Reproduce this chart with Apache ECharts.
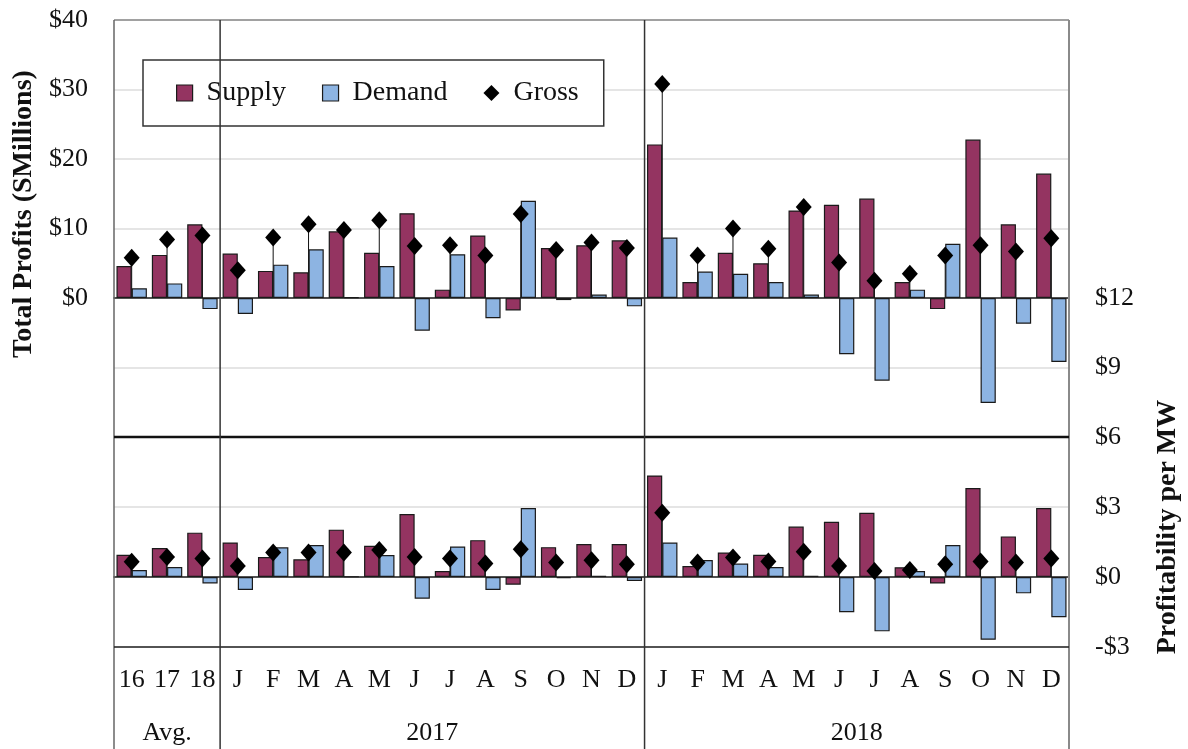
<!DOCTYPE html>
<html><head><meta charset="utf-8">
<script src="https://cdn.jsdelivr.net/npm/echarts@6/dist/echarts.min.js"></script>
<style>html,body{margin:0;padding:0;background:#fff}#c{width:1188px;height:749px}</style>
</head><body><div id="c"></div>
<script>
// ---- data ----
const categories = ['16','17','18','J','F','M','A','M','J','J','A','S','O','N','D','J','F','M','A','M','J','J','A','S','O','N','D'];
const groupNames = ['Avg.','2017','2018'];
const groupSizes = [3, 12, 12];
const seriesNames = ['Supply', 'Demand', 'Gross'];
// Top panel: Total profits ($ millions)
const supplyTotal = [4.6,6.2,10.6, 6.4,3.9,3.7,9.6,6.5,12.2,1.2,9.0,-1.8,7.2,7.6,8.3, 22.1,2.3,6.5,5.0,12.6,13.4,14.3,2.3,-1.6,22.8,10.6,17.9];
const demandTotal = [1.4,2.1,-1.6, -2.3,4.8,7.0,0.1,4.6,-4.7,6.3,-2.9,14.0,-0.3,0.5,-1.2, 8.7,3.8,3.5,2.3,0.5,-8.1,-11.9,1.2,7.8,-15.1,-3.7,-9.2];
const grossTotal  = [5.8,8.4,9.0, 4.0,8.7,10.6,9.8,11.2,7.5,7.6,6.1,12.1,6.9,8.0,7.2, 30.8,6.1,10.0,7.1,13.1,5.1,2.5,3.5,6.1,7.6,6.7,8.6];
// Bottom panel: profitability per MW
const supplyPerMW = [0.95,1.24,1.90, 1.48,0.86,0.76,2.03,1.34,2.70,0.26,1.58,-0.33,1.28,1.41,1.41, 4.35,0.47,1.05,0.95,2.16,2.37,2.75,0.42,-0.28,3.81,1.74,2.96];
const demandPerMW = [0.30,0.43,-0.28, -0.56,1.27,1.37,0.02,0.94,-0.93,1.31,-0.56,2.96,-0.05,0.05,-0.17, 1.48,0.73,0.58,0.43,0.05,-1.51,-2.33,0.26,1.37,-2.69,-0.70,-1.72];
const grossPerMW  = [0.65,0.86,0.79, 0.47,1.05,1.05,1.05,1.16,0.86,0.79,0.58,1.19,0.62,0.72,0.55, 2.75,0.62,0.84,0.66,1.08,0.47,0.26,0.30,0.55,0.66,0.62,0.79];
// Axis ticks
const leftTicks = {min: -20, max: 40, interval: 10};
const rightTopTicks = {min: 6, max: 24, interval: 3, shown: [9, 12]};
const rightBottomTicks = {min: -3, max: 6, interval: 3};

// ---- styles ----
const SERIF = '"Liberation Serif","Times New Roman",serif';
const SUPPLY_C = '#943461';
const DEMAND_C = '#8DB4E2';
const EDGE = '#1a1a1a';

const chart = echarts.init(document.getElementById('c'), null, {renderer: 'canvas'});

function dropLine(params, api) {
  const x = api.value(0), y = api.value(1);
  const p0 = api.coord([x, y]);
  const p1 = api.coord([x, 0]);
  return {type: 'line', shape: {x1: p0[0], y1: p0[1], x2: p1[0], y2: p1[1]},
          style: {stroke: '#111', lineWidth: 1}};
}
const money = v => (v < 0 ? '-$' + (-v) : '$' + v);

const barCommon = {type: 'bar', barGap: '0%', barCategoryGap: '14%', z: 2};
const supplyStyle = {color: SUPPLY_C, borderColor: EDGE, borderWidth: 1.2};
const demandStyle = {color: DEMAND_C, borderColor: EDGE, borderWidth: 1.2};
const grossStyle = {color: '#000', opacity: 1};

const option = {
  animation: false,
  backgroundColor: '#fff',
  textStyle: {fontFamily: SERIF},
  grid: [
    {left: 114, right: 119, top: 20, height: 417, show: false},
    {left: 114, right: 119, top: 437, height: 210, show: false}
  ],
  legend: {
    data: [
      {name: seriesNames[0], icon: 'rect', itemStyle: supplyStyle},
      {name: seriesNames[1], icon: 'rect', itemStyle: demandStyle},
      {name: seriesNames[2], icon: 'diamond', itemStyle: grossStyle}
    ],
    left: 143, top: 60,
    padding: [19, 25, 19, 33],
    itemWidth: 16, itemHeight: 16, itemGap: 36,
    borderColor: '#333', borderWidth: 1.5, backgroundColor: '#fff',
    textStyle: {fontFamily: SERIF, fontSize: 28, color: '#111', padding: [0, 0, 0, 9], lineHeight: 26},
    selectedMode: false
  },
  xAxis: [
    {gridIndex: 0, type: 'category', data: categories, boundaryGap: true,
     axisLine: {show: true, onZero: true, lineStyle: {color: '#222', width: 1.5}},
     axisTick: {show: false}, axisLabel: {show: false}, splitLine: {show: false}},
    {gridIndex: 1, type: 'category', data: categories, boundaryGap: true, position: 'bottom',
     axisLine: {show: false, onZero: false}, axisTick: {show: false},
     axisLabel: {fontFamily: SERIF, fontSize: 26, color: '#111', margin: 20, interval: 0}},
    {gridIndex: 1, type: 'value', min: 0, max: 27, show: false},
    {gridIndex: 1, type: 'category', data: categories, boundaryGap: true,
     axisLine: {show: true, onZero: true, lineStyle: {color: '#222', width: 1.5}},
     axisTick: {show: false}, axisLabel: {show: false}}
  ],
  yAxis: [
    {gridIndex: 0, type: 'value', min: leftTicks.min, max: leftTicks.max, interval: leftTicks.interval,
     axisLine: {show: false}, axisTick: {show: false},
     axisLabel: {formatter: v => (v < 0 ? '' : money(v)), fontFamily: SERIF, fontSize: 26, color: '#111', margin: 26},
     splitLine: {lineStyle: {color: '#dcdcdc', width: 1.5}}},
    {gridIndex: 0, type: 'value', position: 'right', min: rightTopTicks.min, max: rightTopTicks.max, interval: rightTopTicks.interval,
     axisLine: {show: false}, axisTick: {show: false}, splitLine: {show: false},
     axisLabel: {formatter: v => (rightTopTicks.shown.indexOf(v) >= 0 ? money(v) : ''), fontFamily: SERIF, fontSize: 26, color: '#111', margin: 26}},
    {gridIndex: 1, type: 'value', min: rightBottomTicks.min, max: rightBottomTicks.max, interval: rightBottomTicks.interval,
     axisLine: {show: false}, axisTick: {show: false}, axisLabel: {show: false},
     splitLine: {lineStyle: {color: '#dcdcdc', width: 1.5}}},
    {gridIndex: 1, type: 'value', position: 'right', min: rightBottomTicks.min, max: rightBottomTicks.max, interval: rightBottomTicks.interval,
     axisLine: {show: false}, axisTick: {show: false}, splitLine: {show: false},
     axisLabel: {formatter: money, fontFamily: SERIF, fontSize: 26, color: '#111', margin: 26}}
  ],
  series: [
    {name: 'Gross drop', type: 'custom', xAxisIndex: 0, yAxisIndex: 0, renderItem: dropLine, z: 1, silent: true,
     data: grossTotal.map((v, i) => [i, v])},
    {name: 'Gross drop', type: 'custom', xAxisIndex: 1, yAxisIndex: 2, renderItem: dropLine, z: 1, silent: true,
     data: grossPerMW.map((v, i) => [i, v])},
    Object.assign({name: 'Supply', xAxisIndex: 0, yAxisIndex: 0, data: supplyTotal, itemStyle: supplyStyle}, barCommon),
    Object.assign({name: 'Demand', xAxisIndex: 0, yAxisIndex: 0, data: demandTotal, itemStyle: demandStyle}, barCommon),
    Object.assign({name: 'Supply', xAxisIndex: 1, yAxisIndex: 2, data: supplyPerMW, itemStyle: supplyStyle}, barCommon),
    Object.assign({name: 'Demand', xAxisIndex: 1, yAxisIndex: 2, data: demandPerMW, itemStyle: demandStyle}, barCommon),
    {name: 'Gross', type: 'scatter', xAxisIndex: 0, yAxisIndex: 0, data: grossTotal, z: 5,
     symbol: 'diamond', symbolSize: [16, 18], itemStyle: grossStyle},
    {name: 'Gross', type: 'scatter', xAxisIndex: 1, yAxisIndex: 2, data: grossPerMW, z: 5,
     symbol: 'diamond', symbolSize: [16, 18], itemStyle: grossStyle}
  ]
};
chart.setOption(option);

// frame, dividers and group labels positioned through the axes' own scales
const H = 749;
const px = v => chart.convertToPixel({xAxisIndex: 2}, v);
const yTop = chart.convertToPixel({yAxisIndex: 0}, leftTicks.max);
const ySep = chart.convertToPixel({yAxisIndex: 2}, rightBottomTicks.max);
const yBot = chart.convertToPixel({yAxisIndex: 2}, rightBottomTicks.min);
const xL = px(0), xR = px(categories.length);
const g = [];
const ln = (x1, y1, x2, y2, c, w) => g.push({type: 'line', silent: true, z: 50,
  shape: {x1, y1, x2, y2}, style: {stroke: c, lineWidth: w}});
ln(xL, yTop, xR, yTop, '#8a8a8a', 1.5);
ln(xL, yTop, xL, H, '#666', 1.5);
ln(xR, yTop, xR, H, '#8a8a8a', 2);
ln(xL, ySep, xR, ySep, '#111', 2.5);
ln(xL, yBot, xR, yBot, '#222', 1.5);
let acc = 0;
groupSizes.forEach((n, i) => {
  const c = px(acc + n / 2);
  g.push({type: 'text', silent: true, z: 50, x: c, y: yBot + 86,
    style: {text: groupNames[i], font: '26px ' + SERIF, fill: '#111', align: 'center', verticalAlign: 'middle'}});
  acc += n;
  if (acc < categories.length) ln(px(acc), yTop, px(acc), H, '#333', 1.5);
});
g.push({type: 'text', silent: true, z: 50, x: 24, y: 214, rotation: Math.PI / 2,
  style: {text: 'Total Profits (SMillions)', font: 'bold 28px ' + SERIF, fill: '#111', align: 'center', verticalAlign: 'middle'}});
g.push({type: 'text', silent: true, z: 50, x: 1168, y: 527, rotation: Math.PI / 2,
  style: {text: 'Profitability per MW', font: 'bold 28px ' + SERIF, fill: '#111', align: 'center', verticalAlign: 'middle'}});
chart.setOption({graphic: {elements: g}});
</script>
</body></html>
